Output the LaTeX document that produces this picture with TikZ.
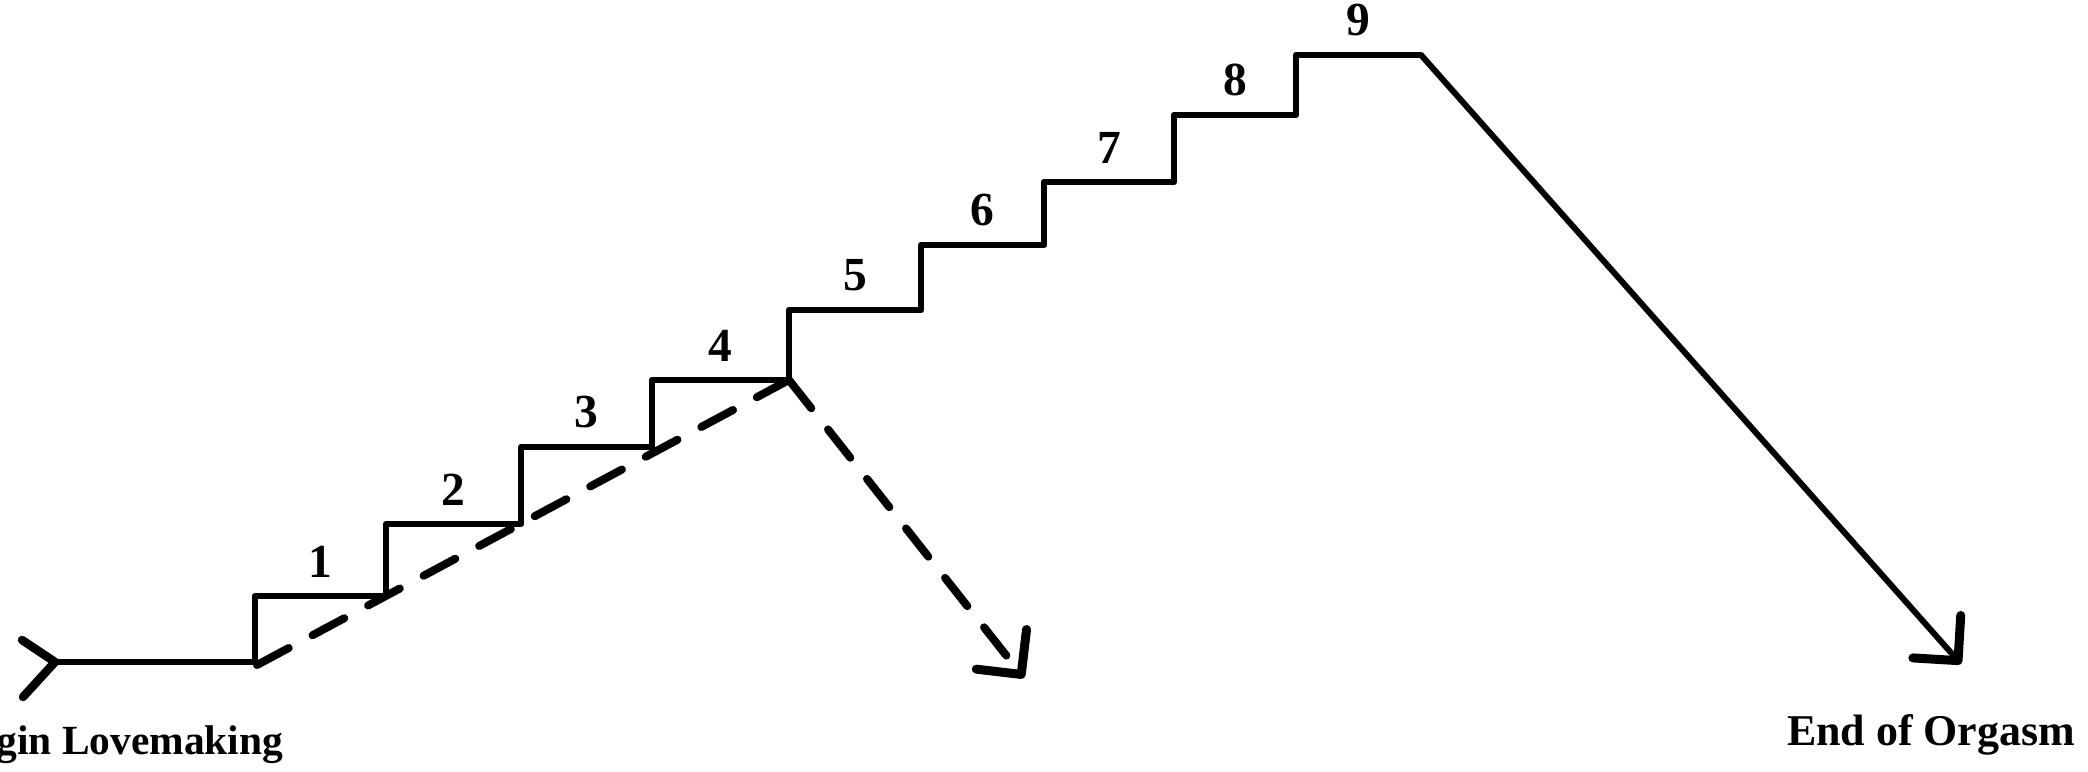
\documentclass[tikz,border=0pt]{standalone}
\usepackage{fontspec}
\setmainfont{Liberation Serif}
\usetikzlibrary{arrows.meta,calc}

\begin{document}
\begin{tikzpicture}[
    stair/.style={line width=0.65mm,line join=round,line cap=round},
    shortcut/.style={line width=0.8mm,line cap=round,dash pattern=on 3.6mm off 2.7mm},
    barb/.style={-{Straight Barb[length=3.2mm,width=6.4mm,line width=0.9mm,round]}},
    steplabel/.style={font=\bfseries\fontsize{13.5}{13.5}\selectfont,inner sep=0pt,above=0.18cm},
    endlabel/.style={font=\bfseries\fontsize{12.5}{12.5}\selectfont,inner sep=0pt}
  ]
  \useasboundingbox (0,0) rectangle (20.88,7.71);

  \coordinate (tail) at (0.55,1.09);
  \coordinate (base) at (2.55,1.09);
  % treads: number / left end / right end / height
  \foreach \i/\xa/\xb/\y in {1/2.55/3.86/1.75, 2/3.86/5.21/2.47, 3/5.21/6.52/3.24,
      4/6.52/7.89/3.91, 5/7.89/9.21/4.61, 6/9.21/10.44/5.26, 7/10.44/11.74/5.89,
      8/11.74/12.96/6.56, 9/12.96/14.21/7.16} {
    \coordinate (t\i a) at (\xa,\y);
    \coordinate (t\i b) at (\xb,\y);
    \node[steplabel] (n\i) at ($(t\i a)!0.5!(t\i b)$) {\i};
  }

  \draw[stair] (tail) -- (base) |- (t1b) |- (t2b) |- (t3b) |- (t4b) |- (t5b)
    |- (t6b) |- (t7b) |- (t8b) |- (t9b);
  \draw[stair,line width=0.85mm] (tail) ++(-0.33,0.22) -- (tail) -- ++(-0.32,-0.35);

  \coordinate (short) at (2.57,1.06);
  \coordinate (drop) at (10.24,0.93);
  \coordinate (fall) at (19.61,1.07);
  \draw[shortcut] (short) -- (t4b);
  \draw[shortcut,barb] (t4b) -- (drop);
  \draw[line width=0.6mm,barb] (t9b) -- (fall);

  \node[endlabel,font=\bfseries\fontsize{11.8}{11.8}\selectfont,anchor=base east] (begin) at (2.84,0.16) {Begin Lovemaking};
  \node[endlabel,anchor=base] (end) at (19.31,0.26) {End of Orgasm};
\end{tikzpicture}
\end{document}
